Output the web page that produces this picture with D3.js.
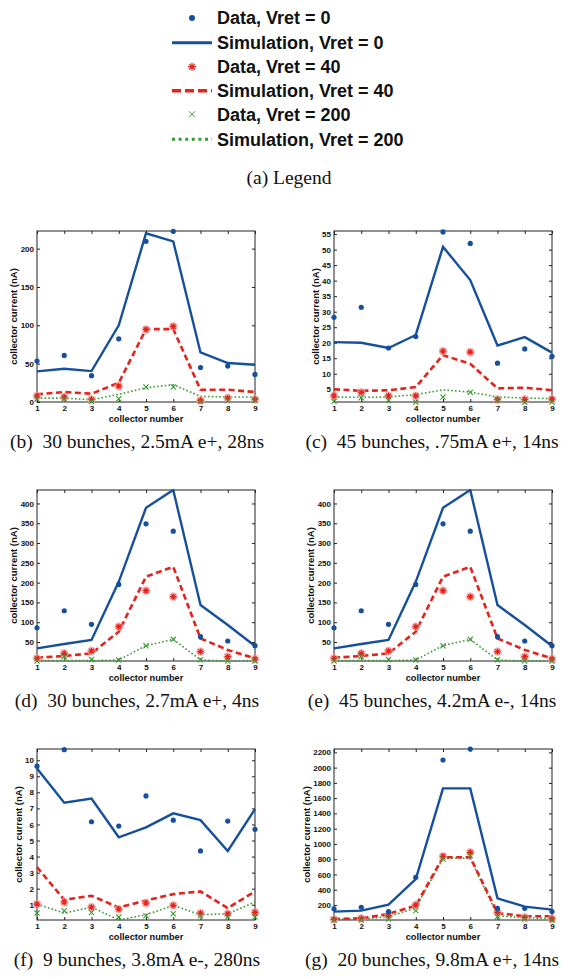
<!DOCTYPE html>
<html><head><meta charset="utf-8">
<script src="https://cdn.jsdelivr.net/npm/d3@7/dist/d3.min.js"></script>
<style>
html,body{margin:0;padding:0;background:#fff;}
svg{display:block;}
</style></head>
<body>
<svg id="fig" width="571" height="979"></svg>
<script>
// ---------------- DATA ----------------
const collectors = [1,2,3,4,5,6,7,8,9];
const legendLabels = ["Data, Vret = 0","Simulation, Vret = 0","Data, Vret = 40","Simulation, Vret = 40","Data, Vret = 200","Simulation, Vret = 200"];
const captions = ["(b)  30 bunches, 2.5mA e+, 28ns","(c)  45 bunches, .75mA e+, 14ns","(d)  30 bunches, 2.7mA e+, 4ns","(e)  45 bunches, 4.2mA e-, 14ns","(f)  9 bunches, 3.8mA e-, 280ns","(g)  20 bunches, 9.8mA e+, 14ns"];
const legendCaption = "(a)  Legend";
const xLabel = "collector number";
const yLabel = "collector current (nA)";

// (b)
const bData0   = [53.4,60.7,34.3,82.4,209.5,222.6,45,46.9,36];
const bSim0    = [40,43.4,40.3,100,220,209.5,64.6,50.8,48.6];
const bData40  = [7.8,6.5,3.5,20.8,94.6,98.5,2.2,5.2,3.5];
const bSim40   = [10,13,10.8,25,95,95,16,16,13];
const bData200 = [4,4,0.5,4.3,19.5,19.5,0.5,2,2];
const bSim200  = [5,5,3,10,18.6,22.5,7.4,6.5,6.5];
const bTicks = [0,50,100,150,200];
// (c)
const cData0   = [28.2,31.4,18.3,22,55.7,52,13.4,18,15.6];
const cSim0    = [20.2,20,18.3,22.5,50.9,40.2,19.1,21.8,16.8];
const cData40  = [2.9,4,2.9,2.9,17.3,17,1.7,1.7,1.8];
const cSim40   = [5,4.5,4.7,5.7,16,13.2,5.3,5.5,4.7];
const cData200 = [1.1,2.3,1.5,0.8,2.5,4,1.5,0.8,0.9];
const cSim200  = [2.5,2.4,2.5,3.3,4.8,4.1,2.5,2.2,2];
const cTicks = [5,10,15,20,25,30,35,40,45,50,55];
// (d)
const dData0   = [86,129,94.6,195.5,348.6,330,63.4,52.5,40.7];
const dSim0    = [34,45,55,202,389,434,143.4,93,40];
const dData40  = [8.7,21.4,27.3,88.7,179.6,164.5,25.6,13,7];
const dSim40   = [10.4,14.6,21.4,76,215,240,59,30,8.7];
const dData200 = [2,13,6,4.5,40.7,56.7,5.4,2,2];
const dSim200  = [3,3,3,4.5,40.7,56.7,4.5,2,2];
const dTicks = [50,100,150,200,250,300,350,400];
// (e)
const eData0   = [86,129,94.6,195.5,348.6,330,63.4,52.5,40.7];
const eSim0    = [34,45,55,202,389,434,143.4,93,40];
const eData40  = [8.7,21.4,27.3,88.7,179.6,164.5,25.6,13,7];
const eSim40   = [10.4,14.6,21.4,76,215,240,59,30,8.7];
const eData200 = [2,13,6,4.5,40.7,56.7,5.4,2,2];
const eSim200  = [3,3,3,4.5,40.7,56.7,4.5,2,2];
const eTicks = [50,100,150,200,250,300,350,400];
// (f)
const fData0   = [9.63,10.66,6.17,5.9,7.78,6.27,4.35,6.21,5.7];
const fSim0    = [9.48,7.35,7.62,5.2,5.82,6.69,6.27,4.35,6.96];
const fData40  = [1.04,1.17,0.85,0.73,1.1,0.96,0.48,0.44,0.52];
const fSim40   = [3.34,1.31,1.56,0.83,1.27,1.66,1.83,0.79,1.83];
const fData200 = [0.48,0.63,0.52,0.23,0.32,0.44,0.32,0.23,0.23];
const fSim200  = [1.04,0.48,0.85,0.05,0.38,0.96,0.38,0.44,1.17];
const fTicks = [1,2,3,4,5,6,7,8,9,10];
// (g)
const gData0   = [150,170,113,562,2100,2244,156,156,113];
const gSim0    = [113,126,204,540,1728,1728,287,178,139];
const gData40  = [12,25,60,200,838,890,104,38,17];
const gSim40   = [17,25,82,191,825,825,95,52,52];
const gData200 = [3,3,17,126,803,847,47,17,3];
const gSim200  = [12,17,47,160,812,812,60,30,25];
const gTicks = [200,400,600,800,1000,1200,1400,1600,1800,2000,2200];

const yDomains = {b:[0,223], c:[0.9,56], d:[2,434], e:[2,434], f:[0.05,10.7], g:[3,2244]};

// ---------------- STYLE / LAYOUT ----------------
const BLUE = "#16509c", RED = "#e4231c", GREEN = "#3b9a35", PINK = "#f6a0a0";
const sansBold = "'Liberation Sans', Arial, sans-serif";
const serif = "'Liberation Serif', 'Times New Roman', serif";

const panels = [
  {id:"b", col:0, row:0, d0:bData0, s0:bSim0, d40:bData40, s40:bSim40, d200:bData200, s200:bSim200, ticks:bTicks},
  {id:"c", col:1, row:0, d0:cData0, s0:cSim0, d40:cData40, s40:cSim40, d200:cData200, s200:cSim200, ticks:cTicks},
  {id:"d", col:0, row:1, d0:dData0, s0:dSim0, d40:dData40, s40:dSim40, d200:dData200, s200:dSim200, ticks:dTicks},
  {id:"e", col:1, row:1, d0:eData0, s0:eSim0, d40:eData40, s40:eSim40, d200:eData200, s200:eSim200, ticks:eTicks},
  {id:"f", col:0, row:2, d0:fData0, s0:fSim0, d40:fData40, s40:fSim40, d200:fData200, s200:fSim200, ticks:fTicks},
  {id:"g", col:1, row:2, d0:gData0, s0:gSim0, d40:gData40, s40:gSim40, d200:gData200, s200:gSim200, ticks:gTicks}
];
const colLeft = [37, 334], plotW = 218;
const rowTop = [231, 490, 749], plotH = 171;
const capX = [137, 432];

const svg = d3.select("#fig");

// marker drawers
function dot(g, x, y, r, color){ g.append("circle").attr("cx",x).attr("cy",y).attr("r",r).attr("fill",color); }
function asterisk(g, x, y, r, color, halo){
  if(halo) g.append("circle").attr("cx",x).attr("cy",y).attr("r",r+1.2).attr("fill",PINK).attr("opacity",0.7);
  const p = d3.path();
  for(let k=0;k<4;k++){
    const a = k*Math.PI/4;
    p.moveTo(x - r*Math.cos(a), y - r*Math.sin(a));
    p.lineTo(x + r*Math.cos(a), y + r*Math.sin(a));
  }
  g.append("path").attr("d",p.toString()).attr("stroke",color).attr("stroke-width",1.2).attr("fill","none");
}
function cross(g, x, y, r, color, w){
  const p = d3.path();
  p.moveTo(x-r,y-r); p.lineTo(x+r,y+r); p.moveTo(x-r,y+r); p.lineTo(x+r,y-r);
  g.append("path").attr("d",p.toString()).attr("stroke",color).attr("stroke-width",w||1.2).attr("fill","none");
}

// ---------------- LEGEND ----------------
const leg = svg.append("g");
const legRows = [18, 42.7, 66.7, 90.7, 114.3, 139.3];
const legX0 = 172, legX1 = 212, legMid = 192, legText = 217;
legendLabels.forEach((lab,i)=>{
  const y = legRows[i];
  if(i===0) dot(leg, legMid, y, 3, BLUE);
  if(i===1) leg.append("line").attr("x1",legX0).attr("x2",legX1).attr("y1",y).attr("y2",y).attr("stroke",BLUE).attr("stroke-width",3);
  if(i===2) asterisk(leg, legMid, y, 4, RED, false);
  if(i===3) leg.append("line").attr("x1",legX0).attr("x2",legX1).attr("y1",y).attr("y2",y).attr("stroke",RED).attr("stroke-width",3.5).attr("stroke-dasharray","9,4");
  if(i===4) cross(leg, legMid, y, 3, GREEN, 1);
  if(i===5) leg.append("line").attr("x1",legX0).attr("x2",legX1).attr("y1",y).attr("y2",y).attr("stroke",GREEN).attr("stroke-width",3).attr("stroke-dasharray","3,3.6");
  leg.append("text").attr("x",legText).attr("y",y+6.3).text(lab)
    .attr("font-family",sansBold).attr("font-weight","bold").attr("font-size",18).attr("fill","#111");
});
svg.append("text").attr("x",289).attr("y",184).attr("text-anchor","middle")
  .attr("font-family",serif).attr("font-size",19.5).attr("fill","#111").text(legendCaption);

// ---------------- PANELS ----------------
panels.forEach((P, idx)=>{
  const L = colLeft[P.col], T = rowTop[P.row];
  const g = svg.append("g").attr("transform",`translate(${L},${T})`);
  const x = d3.scaleLinear().domain([1,9]).range([0,plotW]);
  const y = d3.scaleLinear().domain(yDomains[P.id]).range([plotH,0]);

  // box
  g.append("rect").attr("width",plotW).attr("height",plotH).attr("fill","none").attr("stroke","#222").attr("stroke-width",1);

  const styleAxis = sel => {
    sel.select(".domain").remove();
    sel.selectAll("line").attr("stroke","#222");
    sel.selectAll("text").attr("font-family",sansBold).attr("font-weight","bold").attr("font-size",8).attr("fill","#111");
  };
  const yAx = g.append("g").call(d3.axisLeft(y).tickValues(P.ticks).tickSize(-3).tickPadding(3).tickFormat(d3.format("d"))).call(styleAxis);
  g.append("g").attr("transform",`translate(${plotW},0)`).call(d3.axisRight(y).tickValues(P.ticks).tickSize(-3).tickFormat("")).call(styleAxis);
  g.append("g").attr("transform",`translate(0,${plotH})`).call(d3.axisBottom(x).tickValues(collectors).tickSize(-3).tickPadding(3).tickFormat(d3.format("d"))).call(styleAxis);
  g.append("g").call(d3.axisTop(x).tickValues(collectors).tickSize(-3).tickFormat("")).call(styleAxis);

  // labels
  let maxW = 0;
  yAx.selectAll("text").each(function(){ maxW = Math.max(maxW, this.getComputedTextLength()); });
  g.append("text").attr("x",plotW/2).attr("y",plotH+19.5).attr("text-anchor","middle")
    .attr("font-family",sansBold).attr("font-weight","bold").attr("font-size",9.2).attr("fill","#111").text(xLabel);
  g.append("text").attr("transform",`translate(${-(maxW+6.5)},${plotH/2}) rotate(-90)`).attr("text-anchor","middle")
    .attr("font-family",sansBold).attr("font-weight","bold").attr("font-size",9.5).attr("fill","#111").text(yLabel);

  // lines
  const line = d3.line().x((d,i)=>x(collectors[i])).y(d=>y(d));
  const clipId = "clip"+P.id;
  g.append("clipPath").attr("id",clipId).append("rect").attr("x",-1).attr("y",-1).attr("width",plotW+2).attr("height",plotH+2);
  const lg = g.append("g").attr("clip-path",`url(#${clipId})`);
  lg.append("path").attr("d",line(P.s200)).attr("fill","none").attr("stroke",GREEN).attr("stroke-width",1.6).attr("stroke-dasharray","1.6,2.2");
  lg.append("path").attr("d",line(P.s40)).attr("fill","none").attr("stroke",RED).attr("stroke-width",2.6).attr("stroke-dasharray","6,3.5");
  lg.append("path").attr("d",line(P.s0)).attr("fill","none").attr("stroke",BLUE).attr("stroke-width",2.4);

  // markers
  const mg = g.append("g");
  P.d40.forEach((v,i)=>asterisk(mg, x(collectors[i]), y(v), 3.2, RED, true));
  P.d200.forEach((v,i)=>cross(mg, x(collectors[i]), y(v), 2.6, GREEN, 1.1));
  P.d0.forEach((v,i)=>dot(mg, x(collectors[i]), y(v), 2.6, BLUE));

  // caption
  svg.append("text").attr("x",capX[P.col]).attr("y",T+plotH+46).attr("text-anchor","middle")
    .attr("font-family",serif).attr("font-size",19.5).attr("fill","#111").attr("xml:space","preserve").style("white-space","pre").text(captions[idx]);
});
</script>
</body></html>
